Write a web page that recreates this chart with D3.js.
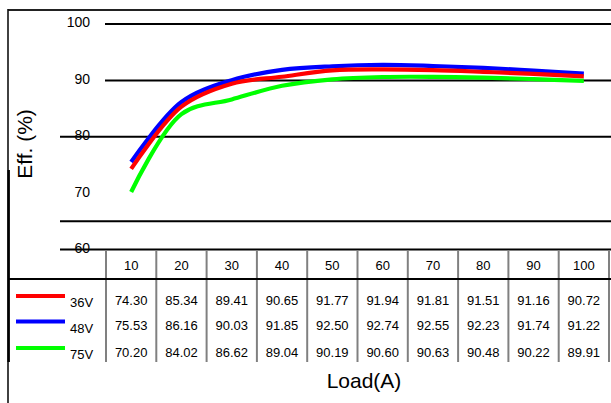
<!DOCTYPE html>
<html>
<head>
<meta charset="utf-8">
<script src="https://cdn.jsdelivr.net/npm/d3@7"></script>
<style>
  html, body { margin: 0; padding: 0; background: #fff; }
  svg { display: block; }
  text { font-family: "Liberation Sans", Arial, sans-serif; fill: #000; }
</style>
</head>
<body>
<svg id="chart" width="611" height="403"></svg>
<script>
// ---- data ----
const loads = [10, 20, 30, 40, 50, 60, 70, 80, 90, 100];
const seriesNames = ["36V", "48V", "75V"];
const eff36 = [74.30, 85.34, 89.41, 90.65, 91.77, 91.94, 91.81, 91.51, 91.16, 90.72];
const eff48 = [75.53, 86.16, 90.03, 91.85, 92.50, 92.74, 92.55, 92.23, 91.74, 91.22];
const eff75 = [70.20, 84.02, 86.62, 89.04, 90.19, 90.60, 90.63, 90.48, 90.22, 89.91];
const yTicks = [100, 90, 80, 70, 60];
const gridLongValues = [80, 65, 60];   // lines reaching into the label area
const gridShortValues = [100, 90];
const yLabel = "Eff. (%)";
const xLabel = "Load(A)";

// ---- layout ----
const svg = d3.select("#chart");
const W = 611;
const colors = ["#ff0000", "#0000ff", "#00ff00"];
const seriesValues = [eff36, eff48, eff75];

const x = d3.scaleBand().domain(loads).range([106, 609]).padding(0);
const xc = d => x(d) + x.bandwidth() / 2;
const y = d3.scaleLinear().domain([60, 100]).range([249.5, 24]);

// outer frame
svg.append("line").attr("x1", 8).attr("x2", W).attr("y1", 10).attr("y2", 10)
  .attr("stroke", "#222").attr("stroke-width", 2);
svg.append("line").attr("x1", 8).attr("x2", 8).attr("y1", 9).attr("y2", 170)
  .attr("stroke", "#111").attr("stroke-width", 1.6);
svg.append("line").attr("x1", 8.5).attr("x2", 8.5).attr("y1", 170).attr("y2", 362)
  .attr("stroke", "#000").attr("stroke-width", 2.8);
svg.append("line").attr("x1", 8).attr("x2", 8).attr("y1", 362).attr("y2", 403)
  .attr("stroke", "#111").attr("stroke-width", 1.6);

// gridlines
svg.selectAll("line.gs").data(gridShortValues).join("line").attr("class", "gs")
  .attr("x1", 105).attr("x2", W).attr("y1", d => y(d)).attr("y2", d => y(d))
  .attr("stroke", "#000").attr("stroke-width", 2);
svg.selectAll("line.gl").data(gridLongValues).join("line").attr("class", "gl")
  .attr("x1", 60).attr("x2", W).attr("y1", d => y(d)).attr("y2", d => y(d))
  .attr("stroke", "#000").attr("stroke-width", 2);

// y axis labels
const yAxis = d3.axisLeft(y).tickValues(yTicks).tickSize(0).tickPadding(0);
const ya = svg.append("g").attr("transform", "translate(90,-1.5)").call(yAxis);
ya.select(".domain").remove();
ya.selectAll("text").attr("font-size", 14).attr("font-family", "Liberation Sans, Arial, sans-serif").attr("fill", "#000");

// y label
svg.append("text").attr("transform", "translate(32,144) rotate(-90)")
  .attr("text-anchor", "middle").attr("font-size", 21).text(yLabel);

// series lines (smoothed, as in the reference)
const line = d3.line().curve(d3.curveCatmullRom.alpha(0.5))
  .x((d, i) => xc(loads[i])).y(d => y(d));
[1, 0, 2].forEach(k => {
  svg.append("path").datum(seriesValues[k]).attr("d", line)
    .attr("fill", "none").attr("stroke", colors[k]).attr("stroke-width", 4.2)
    .attr("stroke-linejoin", "round");
});

// table
const headerTop = y(60), headerBottom = 279, tableBottom = 362;
svg.append("line").attr("x1", 8).attr("x2", W).attr("y1", headerBottom).attr("y2", headerBottom)
  .attr("stroke", "#000").attr("stroke-width", 2);
const seps = [x.range()[0]].concat(loads.map(d => x(d) + x.bandwidth()));
svg.selectAll("line.sh").data(seps).join("line").attr("class", "sh")
  .attr("x1", d => d).attr("x2", d => d).attr("y1", headerTop + 1).attr("y2", headerBottom - 1)
  .attr("stroke", "#808080").attr("stroke-width", 2);
svg.selectAll("line.sd").data(seps).join("line").attr("class", "sd")
  .attr("x1", d => d).attr("x2", d => d).attr("y1", headerBottom + 1).attr("y2", tableBottom)
  .attr("stroke", "#808080").attr("stroke-width", 2);

svg.selectAll("text.hd").data(loads).join("text").attr("class", "hd")
  .attr("x", d => xc(d)).attr("y", 269.5).attr("text-anchor", "middle")
  .attr("font-size", 13).text(d => d);

const rowY = [300, 325.5, 352];
seriesValues.forEach((vals, k) => {
  svg.selectAll("text.r" + k).data(vals).join("text").attr("class", "r" + k)
    .attr("x", (d, i) => xc(loads[i])).attr("y", rowY[k] + 4.5).attr("text-anchor", "middle")
    .attr("font-size", 13).text(d => d.toFixed(2));
  svg.append("line").attr("x1", 16).attr("x2", 65).attr("y1", rowY[k] - 4).attr("y2", rowY[k] - 4)
    .attr("stroke", colors[k]).attr("stroke-width", 4);
  svg.append("text").attr("x", 70).attr("y", rowY[k] + 7).attr("font-size", 13).text(seriesNames[k]);
});

// x label
svg.append("text").attr("x", 364).attr("y", 388).attr("text-anchor", "middle")
  .attr("font-size", 21).text(xLabel);
</script>
</body>
</html>
